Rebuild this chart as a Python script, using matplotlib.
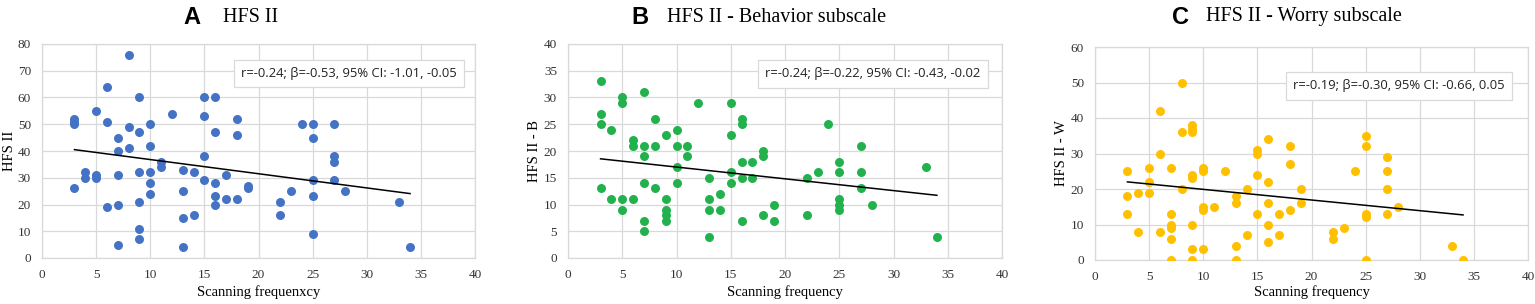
import numpy as np
import matplotlib
matplotlib.use("Agg")
import matplotlib.pyplot as plt

# ---------------------------------------------------------------
# data (scanning frequency vs. HFS II scores)
# ---------------------------------------------------------------
scan_a = [3, 3, 3, 3, 4, 4, 5, 5, 5, 6, 6, 6, 7, 7, 7, 7, 7, 8, 8, 8,
          9, 9, 9, 9, 9, 9, 10, 10, 10, 10, 10, 11, 11, 12, 13, 13, 13, 13,
          14, 14, 15, 15, 15, 15, 16, 16, 16, 16, 16, 17, 17, 18, 18, 18,
          19, 19, 22, 22, 23, 24, 25, 25, 25, 25, 25, 27, 27, 27, 27, 28, 33, 34]
hfs_a = [52, 51, 50, 26, 32, 30, 55, 31, 30, 64, 51, 19, 45, 40, 31, 20, 5, 76, 49, 41,
         60, 47, 32, 21, 11, 7, 50, 42, 32, 28, 24, 36, 34, 54, 33, 25, 15, 4,
         32, 16, 60, 53, 38, 29, 60, 47, 28, 23, 20, 31, 22, 52, 46, 22,
         27, 26, 21, 16, 25, 50, 50, 45, 29, 23, 9, 50, 38, 36, 29, 25, 21, 4]

scan_b = [3, 3, 3, 3, 4, 4, 5, 5, 5, 5, 6, 6, 6, 7, 7, 7, 7, 7, 7, 8, 8, 8,
          9, 9, 9, 9, 9, 10, 10, 10, 10, 11, 11, 12, 13, 13, 13, 13, 14, 14,
          15, 15, 15, 15, 16, 16, 16, 16, 16, 17, 17, 18, 18, 18, 19, 19,
          22, 22, 23, 24, 25, 25, 25, 25, 25, 27, 27, 27, 28, 33, 34]
hfs_b = [33, 27, 25, 13, 24, 11, 30, 29, 11, 9, 22, 21, 11, 31, 21, 19, 14, 7, 5, 26, 21, 13,
         23, 11, 9, 8, 7, 24, 21, 17, 14, 21, 19, 29, 15, 11, 9, 4, 12, 9,
         29, 23, 16, 14, 26, 25, 18, 15, 7, 18, 15, 20, 19, 8, 10, 7,
         15, 8, 16, 25, 18, 16, 11, 10, 9, 21, 16, 13, 10, 17, 4]

scan_c = [3, 3, 3, 4, 4, 5, 5, 5, 6, 6, 6, 7, 7, 7, 7, 7, 7, 8, 8, 8,
          9, 9, 9, 9, 9, 9, 9, 9, 10, 10, 10, 10, 10, 11, 12, 13, 13, 13, 13,
          14, 14, 15, 15, 15, 15, 16, 16, 16, 16, 16, 17, 17, 18, 18, 18, 19, 19,
          22, 22, 23, 24, 25, 25, 25, 25, 25, 27, 27, 27, 27, 28, 33, 34]
hfs_c = [25, 18, 13, 19, 8, 26, 22, 19, 42, 30, 8, 26, 13, 10, 9, 6, 0, 50, 36, 20,
         38, 37, 36, 24, 23, 10, 3, 0, 26, 25, 15, 14, 3, 15, 25, 18, 16, 4, 0,
         20, 7, 31, 30, 24, 13, 34, 22, 16, 10, 5, 13, 7, 32, 27, 14, 20, 16,
         8, 6, 9, 25, 35, 32, 13, 12, 0, 29, 25, 20, 13, 15, 4, 0]

# trend lines as reported (slope = beta, intercept)
fit_slope = [-0.53, -0.22, -0.30]
fit_intercept = [42.1, 19.2, 22.9]

letters = ["A", "B", "C"]
titles = ["HFS II", "HFS II - Behavior subscale", "HFS II - Worry subscale"]
ylabels = ["HFS II", "HFS II - B", "HFS II - W"]
xlabels = ["Scanning frequenxcy", "Scanning frequency", "Scanning frequency"]
stats = ["r=-0.24; \u03b2=-0.53, 95% CI: -1.01, -0.05",
         "r=-0.24; \u03b2=-0.22, 95% CI: -0.43, -0.02",
         "r=-0.19; \u03b2=-0.30, 95% CI: -0.66, 0.05"]
y_max = [80, 40, 60]
y_step = [10, 5, 10]
colors = ["#4472C4", "#22B14C", "#FFC000"]

W, H = 1535, 304
fig = plt.figure(figsize=(W / 100, H / 100), dpi=100)

# axes boxes in pixels: left, right, top, bottom
boxes = [(42, 475, 44, 258), (568, 1002, 44, 258), (1095, 1528, 47, 260)]
title_px = [(183, 223), (631, 667), (1172, 1206)]
ylab_px = [3, 528, 1055]
stat_pos = [(0.708, 0.862), (0.703, 0.86), (0.702, 0.817)]

grid_col = "#d9d9d9"
serif = "Liberation Serif"

xs = [scan_a, scan_b, scan_c]
ys = [hfs_a, hfs_b, hfs_c]

for i in range(3):
    l, r, t, b = boxes[i]
    ax = fig.add_axes([l / W, 1 - b / H, (r - l) / W, (b - t) / H])
    x = np.array(xs[i])
    y = np.array(ys[i])
    ax.scatter(x, y, s=42, color=colors[i], zorder=3, linewidths=0)

    # linear trend line over the observed range
    xx = np.array([x.min(), x.max()])
    ax.plot(xx, fit_slope[i] * xx + fit_intercept[i], color="black",
            linewidth=1.1, zorder=4)

    ax.set_xlim(0, 40)
    ax.set_ylim(0, y_max[i])
    ax.set_xticks(range(0, 41, 5))
    ax.set_yticks(range(0, y_max[i] + 1, y_step[i]))
    ax.grid(True, color=grid_col, linewidth=0.9, zorder=0)
    ax.set_axisbelow(True)
    for sp in ax.spines.values():
        sp.set_color(grid_col)
        sp.set_linewidth(0.9)
    ax.tick_params(length=0, labelsize=9.5, pad=8, colors="#333333")
    for lab in ax.get_xticklabels() + ax.get_yticklabels():
        lab.set_fontfamily(serif)

    ax.text(stat_pos[i][0], stat_pos[i][1], stats[i], transform=ax.transAxes,
            ha="center", va="center", fontsize=9.4, family="Open Sans",
            color="#222222", zorder=5,
            bbox=dict(boxstyle="square,pad=0.55", fc="white", ec=grid_col, lw=0.9))

    fig.text(((l + r) / 2) / W, 1 - 292 / H, xlabels[i], ha="center",
             va="center", family=serif, fontsize=10.5)
    fig.text(ylab_px[i] / W, 1 - ((t + b) / 2) / H, ylabels[i], rotation=90,
             ha="left", va="center", family=serif, fontsize=10.5)

    # panel letter + title
    fig.text(title_px[i][0] / W, 1 - 17 / H, letters[i], family="Liberation Sans",
             weight="bold", fontsize=17, ha="left", va="center")
    fig.text(title_px[i][1] / W, 1 - 17 / H, titles[i], family=serif,
             fontsize=14.5, ha="left", va="center")

fig.savefig("out.png", dpi=100)
